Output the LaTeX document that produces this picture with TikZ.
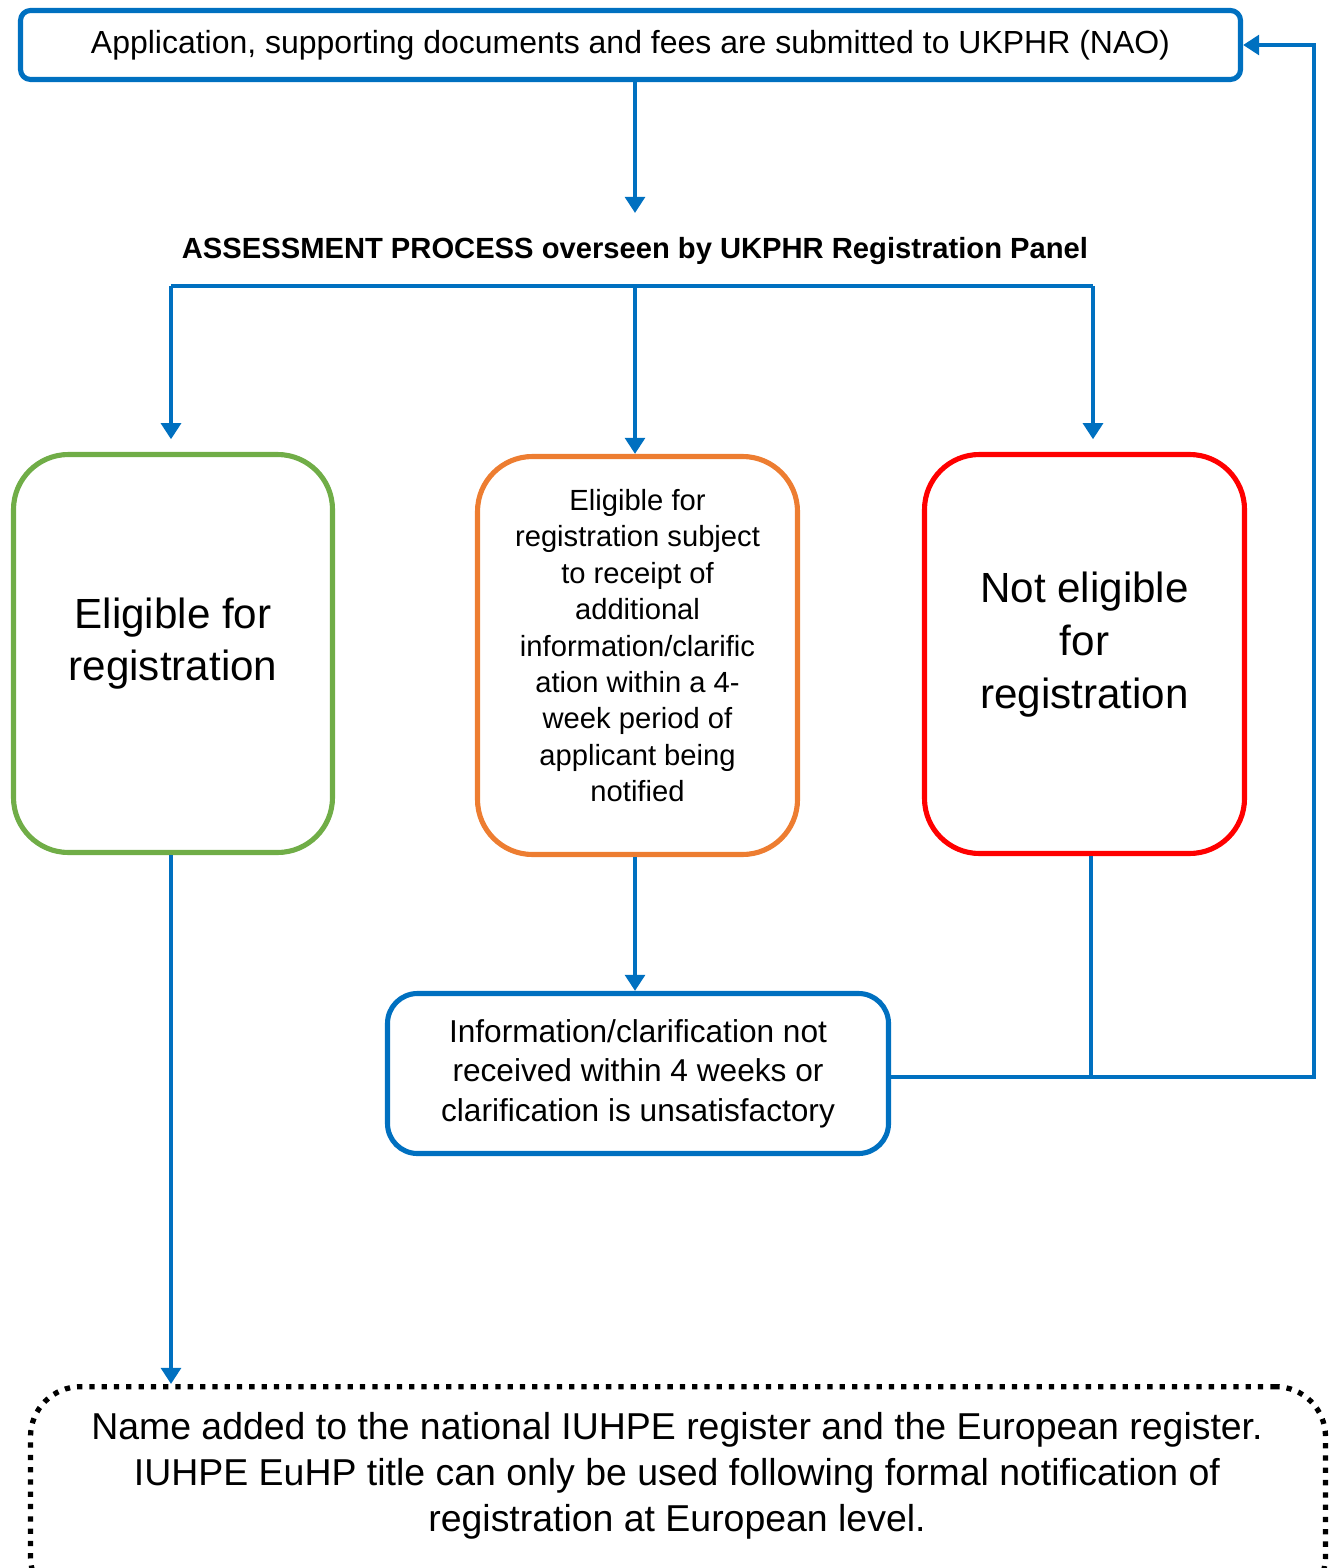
\documentclass[tikz,border=0pt]{standalone}
\usepackage{fontspec}
\setmainfont{Liberation Sans}
\usetikzlibrary{arrows.meta}
\definecolor{ukblue}{HTML}{0070C0}
\definecolor{ukgreen}{HTML}{70AD47}
\definecolor{ukorange}{HTML}{ED7D31}
\definecolor{ukred}{HTML}{FF0000}
\tikzset{>={Triangle[length=4.6pt,width=5.6pt]}}
\tikzset{
  box/.style={draw, line width=1.45pt, align=center, inner sep=2pt},
  flow/.style={->, draw=ukblue, line width=1.35pt},
  link/.style={draw=ukblue, line width=1.35pt},
  endbox/.style={draw=black, line width=1.5pt, dash pattern=on 1.5pt off 2pt, rounded corners=0.5cm}
}

\begin{document}
\begin{tikzpicture}[line join = round]
    \useasboundingbox (0,0) rectangle (13.33,-15.68);

    % boxes
    \node[box, draw=ukblue, rounded corners=0.1cm, minimum width=12.2cm, minimum height=0.69cm,
      font=\fontsize{9.1}{11.3}\selectfont] (apply) at (6.305,-0.45)
      {Application, supporting documents and fees are submitted to UKPHR (NAO)};
    \node[font=\fontsize{8.3}{10.4}\selectfont\bfseries] (assess) at (6.35,-2.51)
      {ASSESSMENT PROCESS overseen by UKPHR Registration Panel};

    \node[box, draw=ukgreen, rounded corners=0.55cm, minimum width=3.19cm, minimum height=3.98cm,
      text depth=8.2pt, font=\fontsize{12}{15}\selectfont] (elig) at (1.73,-6.535)
      {Eligible for\\registration};
    \node[box, draw=ukorange, rounded corners=0.55cm, minimum width=3.2cm, minimum height=3.98cm,
      text depth=5.7pt, font=\fontsize{8.3}{10.35}\selectfont] (subj) at (6.375,-6.555)
      {Eligible for\\registration subject\\to receipt of\\additional\\information/clarific\\ation within a 4-\\week period of\\applicant being\\notified};
    \node[box, draw=ukred, rounded corners=0.55cm, minimum width=3.2cm, minimum height=3.99cm,
      text depth=7.8pt, font=\fontsize{12}{15}\selectfont] (noteli) at (10.845,-6.54)
      {Not eligible\\for\\registration};
    \node[box, draw=ukblue, rounded corners=0.3cm, minimum width=5.01cm, minimum height=1.6cm,
      font=\fontsize{9}{11.2}\selectfont] (info) at (6.38,-10.735)
      {Information/clarification not\\received within 4 weeks or\\clarification is unsatisfactory};

    \node[endbox, anchor=north, minimum width=12.95cm, minimum height=2.2cm] (final) at (6.78,-13.84) {};
    \node[align=center, font=\fontsize{10.65}{13.1}\selectfont] (finaltxt) at (6.77,-14.76)
      {Name added to the national IUHPE register and the European register.\\
       IUHPE EuHP title can only be used following formal notification of\\
       registration at European level.};

    % connectors
    \coordinate (toptip) at (6.35,-2.13);
    \coordinate (barL) at (1.71,-2.86);
    \coordinate (barM) at (6.35,-2.86);
    \coordinate (barR) at (10.93,-2.86);
    \coordinate (join) at (10.91,-10.77);
    \coordinate (corner) at (13.14,-10.77);

    \draw[flow] (toptip |- apply.south) -- (toptip);
    \draw[link] (barL) -- (barR);
    \draw[flow, shorten >=3.6pt] (barL) -- (barL |- elig.north);
    \draw[flow] (barM) -- (barM |- subj.north);
    \draw[flow, shorten >=3.6pt] (barR) -- (barR |- noteli.north);
    \draw[flow] (barM |- subj.south) -- (barM |- info.north);
    \draw[link] (join |- noteli.south) -- (join);
    \draw[flow, line join=miter] (info.east |- join) -- (corner) -- (corner |- apply.east) -- (apply.east);
    \draw[flow] (barL |- elig.south) -- (barL |- final.north);
\end{tikzpicture}
\end{document}
